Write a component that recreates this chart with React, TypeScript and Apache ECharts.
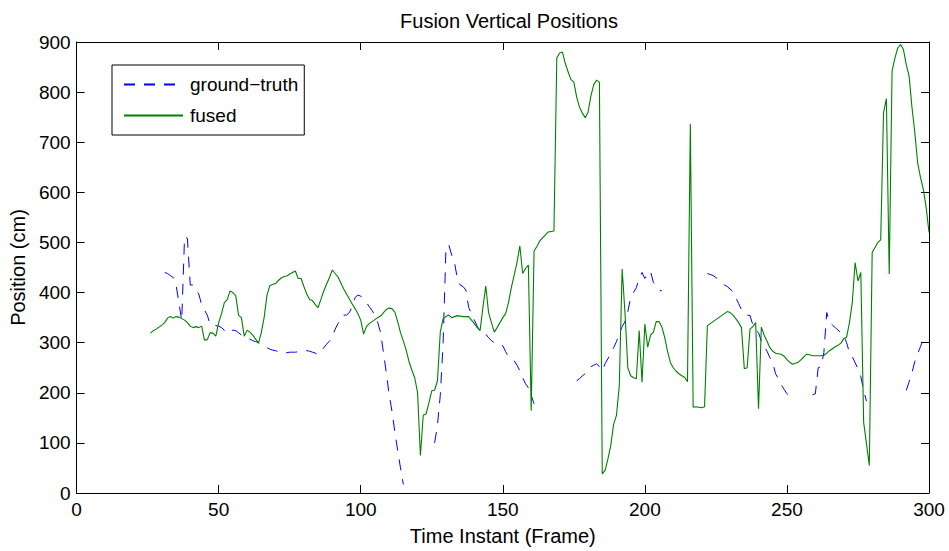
import React, { useEffect, useRef } from "react";
import * as echarts from "echarts";

const TITLE = "Fusion Vertical Positions";
const X_NAME = "Time Instant (Frame)";
const Y_NAME = "Position (cm)";
const SERIES_NAMES = ["ground\u2212truth", "fused"];

// ground truth, frames 31..298 (null = no measurement)
const GT_START = 31;
const gtValues: (number | null)[] = [
  440, 438, 434, 430, 415, 380, 344, 512, 508, 415, 415, 405, 397, 376, 365, 355, 336, 334, 334, 333,
  330, 325, 319, 322, 325, 324, 320, 315, 312, 310, 307, 304, 302, 300, 297, 294, 290, 287, 285, 284,
  282, 280, 279, 280, 281, 281, 281, 282, 283, 284, 284, 283, 281, 279, 277, 282, 290, 297, 303, 312,
  327, 338, 350, 355, 355, 360, 372, 390, 395, 393, 386, 380, 372, 364, 355, 340, 320, 280, 240, 196,
  163, 122, 85, 50, 17,
  null, null, null, null, null, null, null, null, null, null,
  100, 135, 195, 300, 490, 495, 475, 460, 428, 415, 412, 405, 370, 358, 345, 333, 323, 320, 317, 310,
  304, 300, 298, 296, 294, 282, 272, 268, 264, 255, 244, 230, 218, 210, 195, 178,
  null, null, null, null, null, null, null, null, null, null, null, null, null, null,
  224, 228, 234, 238, 245, 252, 255, 258, 252, 244, 258, 268, 280, 290, 302, 318, 332, 342, 362, 390,
  400, 410, 428, 440, 428, 440, 442, 420, 413, 405, 403,
  null, null, null, null, null, null, null, null, null, null, null, null, null, null, null,
  438, 436, 434, 430, 425, 420, 415, 412, 407, 402, 390, 378, 366, 358, 355, 354, 336, 325, 320, 303,
  292, 283, 270, 260, 238, 228, 216, 207, 198, 193,
  null, null, null, null, null, null, null,
  196, 198, 250, 252, 280, 360, 340, 335, 330, 325, 320, 315, 300, 280, 272, 260, 248, 232, 205, 183,
  null, null, null, null, null, null, null, null, null, null, null, null, null,
  205, 222, 240, 262, 278, 292, 307,
];

// fused estimate, frames 26..300
const FUSED_START = 26;
const fusedValues: number[] = [
  319, 324, 327, 331, 335, 340, 349, 352, 349, 352, 351, 348, 345, 340, 333, 330, 332, 330, 333, 305,
  306, 320, 319, 313, 340, 358, 380, 386, 403, 400, 394, 355, 350, 313, 325, 321, 315, 307, 299, 320,
  350, 395, 414, 416, 418, 424, 429, 432, 433, 437, 440, 443, 428, 428, 412, 397, 386, 384, 376, 370,
  387, 403, 417, 430, 445, 438, 431, 419, 407, 397, 387, 377, 368, 358, 345, 317, 332, 338, 342, 346,
  350, 353, 360, 366, 369, 368, 361, 342, 320, 303, 285, 262, 245, 230, 201, 75, 155, 158, 180, 204,
  205, 224, 321, 348, 352, 355, 350, 352, 354, 353, 352, 352, 352, 345, 338, 330, 324, 370, 413, 360,
  340, 321, 330, 340, 350, 358, 380, 410, 435, 460, 493, 438, 448, 455, 164, 483, 492, 503, 509, 515,
  521, 522, 523, 868, 878, 880, 857, 840, 825, 820, 790, 770, 758, 749, 760, 792, 815, 824, 820, 38,
  45, 68, 95, 137, 155, 214, 447, 360, 250, 234, 230, 228, 324, 221, 337, 291, 315, 321, 342, 342,
  331, 310, 282, 260, 250, 243, 238, 234, 231, 222, 737, 171, 172, 171, 170, 172, 334, 338, 342, 346,
  350, 354, 358, 362, 360, 355, 348, 340, 330, 248, 250, 327, 332, 340, 168, 331, 315, 303, 290, 283,
  279, 278, 277, 273, 266, 261, 257, 259, 261, 266, 272, 277, 276, 274, 274, 274, 274, 275, 279, 284,
  288, 292, 295, 299, 308, 311, 340, 380, 460, 423, 440, 141, 98, 55, 480, 490, 500, 505, 759, 787,
  437, 842, 868, 888, 895, 885, 855, 832, 770, 720, 659, 630, 606, 570, 520,
];

const X_TICKS = [0, 50, 100, 150, 200, 250, 300];
const Y_TICKS = [0, 100, 200, 300, 400, 500, 600, 700, 800, 900];

const FONT = "'Liberation Sans', Arial, Helvetica, sans-serif";

export default function App() {
  const ref = useRef<HTMLDivElement>(null);
  useEffect(() => {
    if (!ref.current) return;
    const chart = echarts.init(ref.current, undefined, { renderer: "svg" });
    const gtData = gtValues.map((v, i) => [GT_START + i, v]);
    const fusedData = fusedValues.map((v, i) => [FUSED_START + i, v]);
    const axisLineStyle = { color: "#000", width: 1 };
    const xBase = {
      type: "value" as const,
      min: X_TICKS[0],
      max: X_TICKS[X_TICKS.length - 1],
      interval: X_TICKS[1] - X_TICKS[0],
      splitLine: { show: false },
      axisLine: { show: true, onZero: false, lineStyle: axisLineStyle },
      axisTick: { show: true, inside: true, length: 8, lineStyle: axisLineStyle },
    };
    const yBase = {
      type: "value" as const,
      min: Y_TICKS[0],
      max: Y_TICKS[Y_TICKS.length - 1],
      interval: Y_TICKS[1] - Y_TICKS[0],
      splitLine: { show: false },
      axisLine: { show: true, onZero: false, lineStyle: axisLineStyle },
      axisTick: { show: true, inside: true, length: 8, lineStyle: axisLineStyle },
    };
    chart.setOption({
      animation: false,
      backgroundColor: "#fff",
      textStyle: { fontFamily: FONT },
      title: {
        text: TITLE,
        left: 504,
        top: 6,
        textAlign: "center",
        textStyle: { fontFamily: FONT, fontSize: 20, fontWeight: "normal", color: "#000" },
      },
      grid: { left: 76, right: 20, top: 42, bottom: 57 },
      legend: {
        data: SERIES_NAMES,
        orient: "vertical",
        left: 112,
        top: 65,
        padding: [10, 6, 10, 11],
        itemGap: 12,
        itemWidth: 59,
        itemHeight: 20,
        itemStyle: { opacity: 0 },
        borderColor: "#000",
        borderWidth: 1,
        borderRadius: 0,
        backgroundColor: "#fff",
        textStyle: { fontFamily: FONT, fontSize: 19, color: "#000", padding: [0, 0, 0, 2] },
      },
      xAxis: [
        {
          ...xBase,
          position: "bottom",
          name: X_NAME,
          nameLocation: "middle",
          nameGap: 33,
          nameTextStyle: { fontFamily: FONT, fontSize: 20, color: "#000" },
          axisLabel: { show: true, margin: 7, fontFamily: FONT, fontSize: 19, color: "#000" },
        },
        { ...xBase, position: "top", axisLabel: { show: false } },
      ],
      yAxis: [
        {
          ...yBase,
          position: "left",
          name: Y_NAME,
          nameLocation: "middle",
          nameGap: 48,
          nameTextStyle: { fontFamily: FONT, fontSize: 20, color: "#000" },
          axisLabel: { show: true, margin: 6, fontFamily: FONT, fontSize: 19, color: "#000" },
        },
        { ...yBase, position: "right", axisLabel: { show: false } },
      ],
      series: [
        {
          name: SERIES_NAMES[0],
          type: "line",
          data: gtData,
          showSymbol: false,
          symbol: "none",
          connectNulls: false,
          lineStyle: { color: "#0000ff", width: 1, type: [11, 9] },
          itemStyle: { color: "#0000ff" },
          z: 2,
        },
        {
          name: SERIES_NAMES[1],
          type: "line",
          data: fusedData,
          showSymbol: false,
          symbol: "none",
          lineStyle: { color: "#008000", width: 1.1 },
          itemStyle: { color: "#008000" },
          z: 3,
        },
      ],
    });
    return () => chart.dispose();
  }, []);
  return (
    <div
      ref={ref}
      style={{ position: "fixed", left: 0, top: 0, width: 949, height: 551, background: "#fff" }}
    />
  );
}
